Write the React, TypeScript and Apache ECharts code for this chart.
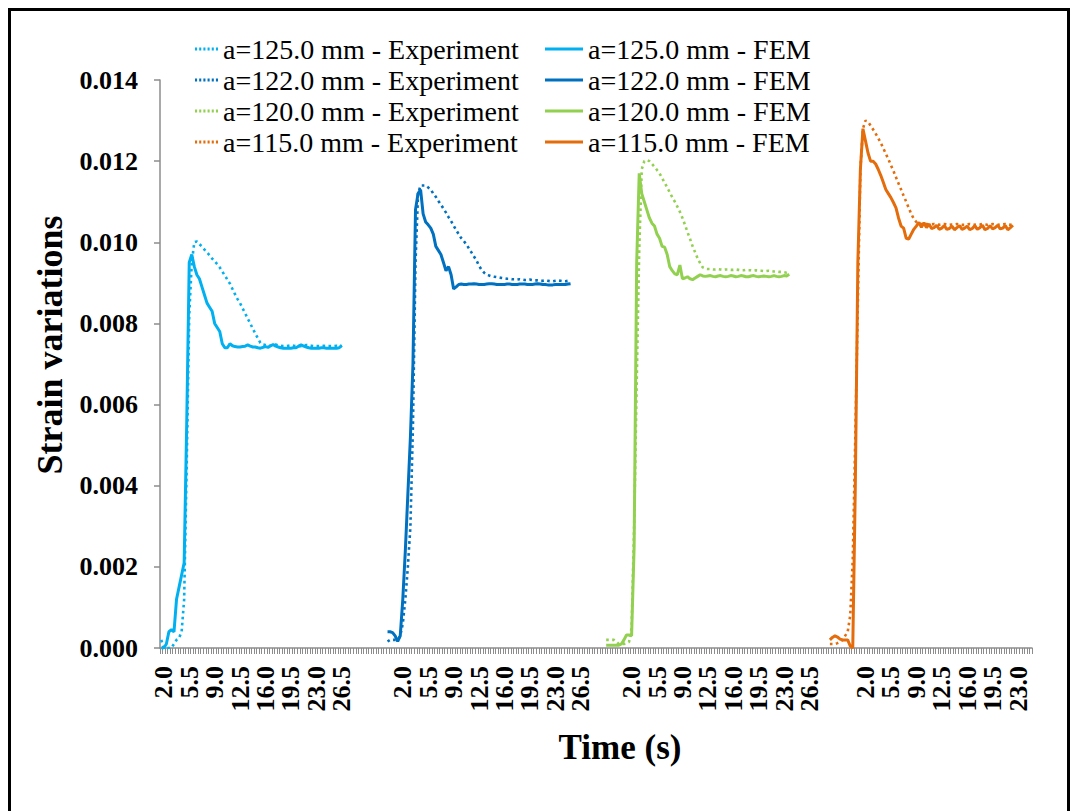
import React, { useEffect, useRef } from 'react';
import * as echarts from 'echarts';

// ---------- data ----------
const N_CAT = 343; // category slots along the single time axis (0.35 s each)
const tickLabels = ['2.0', '5.5', '9.0', '12.5', '16.0', '19.5', '23.0', '26.5'];
const labelsPerGroup = [8, 8, 8, 7];
const groupLabelStart = [1, 95, 185, 277];
const groupDataStart = [0, 89, 175, 263];

const seriesNames = [
  'a=125.0 mm - Experiment',
  'a=122.0 mm - Experiment',
  'a=120.0 mm - Experiment',
  'a=115.0 mm - Experiment',
  'a=125.0 mm - FEM',
  'a=122.0 mm - FEM',
  'a=120.0 mm - FEM',
  'a=115.0 mm - FEM',
];

const exp125 = [
  0.0002, 0, 0, 0, 0, 0.0001, 0.0002, 0.00025, 0.0004, 0.0012, 0.0045, 0.0082, 0.0095, 0.0100, 0.01002,
  0.00995, 0.0099, 0.00982, 0.00975, 0.00968, 0.0096, 0.00953, 0.00946, 0.00938, 0.00928, 0.00918,
  0.00908, 0.00898, 0.00885, 0.00872, 0.0086, 0.0085, 0.00837, 0.00825, 0.00812, 0.008, 0.00787,
  0.00775, 0.00763, 0.00752, 0.00748,
  0.00747, 0.00746, 0.00745, 0.00746, 0.00748, 0.00746, 0.00745, 0.00744, 0.00744, 0.00745,
  0.00746, 0.00745, 0.00744, 0.00744, 0.00744, 0.00745, 0.00747, 0.00746, 0.00745, 0.00744,
  0.00744, 0.00744, 0.00744, 0.00745, 0.00744, 0.00744, 0.00744, 0.00744, 0.00745, 0.00744, 0.00744,
];
const fem125 = [
  0, 0, 0.0001, 0.0004, 0.00045, 0.0004, 0.0012, 0.0015, 0.0018, 0.0021, 0.0055, 0.0095, 0.0097, 0.0094,
  0.0092, 0.0091, 0.0089, 0.0087, 0.0085, 0.0084, 0.0083, 0.0080, 0.0079, 0.0078, 0.0075, 0.0074,
  0.0074, 0.0075, 0.00745,
  0.00743, 0.00742, 0.00742, 0.00743, 0.00744, 0.00747, 0.00744, 0.00742, 0.00742, 0.0074,
  0.00739, 0.00741, 0.00743, 0.00741, 0.00745, 0.00748, 0.00744, 0.00742, 0.0074, 0.00739,
  0.00739, 0.00739, 0.00739, 0.0074, 0.0074, 0.00744, 0.00747, 0.00744, 0.00742, 0.0074,
  0.00739, 0.00739, 0.00739, 0.00739, 0.0074, 0.0074, 0.00739, 0.00739, 0.00739, 0.00739,
  0.00739, 0.0074, 0.00746,
];

const exp122 = [
  0.00016, 0.0002, 0.0002, 0.0002, 0.0002, 0.0003, 0.0006, 0.0012, 0.002, 0.003,
  0.0055, 0.0095, 0.0112, 0.0114, 0.0114, 0.0114, 0.01135, 0.0113, 0.0112, 0.01112,
  0.01102, 0.01093, 0.01083, 0.01073, 0.01062, 0.01052, 0.01041, 0.0103, 0.0102, 0.0101,
  0.01003, 0.00995, 0.00985, 0.00975, 0.00965, 0.00955, 0.00942, 0.00932, 0.00925, 0.0092,
  0.00918, 0.00916, 0.00915, 0.00914, 0.00913, 0.00912, 0.00911,
  0.0091, 0.0091, 0.00909, 0.00909, 0.00908, 0.00909, 0.00908, 0.00907, 0.00907, 0.00908,
  0.00907, 0.00906, 0.00906, 0.00905, 0.00905, 0.00906, 0.00905, 0.00904, 0.00904, 0.00905,
  0.00906, 0.00905, 0.00904, 0.00904, 0.00905, 0.00905,
];
const fem122 = [
  0.0004, 0.0004, 0.00038, 0.0003, 0.00016, 0.0003, 0.0012, 0.0024, 0.0038, 0.0052,
  0.0070, 0.0108, 0.0112, 0.0113, 0.0107, 0.0105, 0.01043, 0.01035, 0.0102, 0.0099,
  0.0098, 0.0097, 0.0095, 0.0093, 0.0094, 0.0092, 0.00885, 0.0089, 0.00896,
  0.00897, 0.00896, 0.00896, 0.00897, 0.00897, 0.00898, 0.00897, 0.00896, 0.00896, 0.00896,
  0.00897, 0.00898, 0.00898, 0.00897, 0.00896, 0.00896, 0.00896, 0.00896, 0.00897, 0.00897,
  0.00896, 0.00896, 0.00896, 0.00897, 0.00897, 0.00897, 0.00896, 0.00896, 0.00896, 0.00897,
  0.00898, 0.00897, 0.00896, 0.00896, 0.00895, 0.00895, 0.00895, 0.00896, 0.00896, 0.00896,
  0.00896, 0.00896, 0.00897, 0.00898,
];

const exp120 = [
  0.0002, 0.0002, 0.0002, 0.0002, 0.00015, 0.0001, 0.0001, 0.0001, 0.00012, 0.00015,
  0.0005, 0.003, 0.0065, 0.0098, 0.0118, 0.0120, 0.01203, 0.012, 0.01193, 0.01186,
  0.01178, 0.0117, 0.01158, 0.01147, 0.01135, 0.01123, 0.01111, 0.011, 0.01088, 0.01075,
  0.0106, 0.01043, 0.01025, 0.01008, 0.0099, 0.00975, 0.0096, 0.00948, 0.00938,
  0.00935, 0.00934, 0.00934, 0.00933, 0.00933, 0.00934, 0.00933, 0.00932, 0.00933, 0.00933,
  0.00932, 0.00932, 0.00933, 0.00932, 0.00931, 0.00931, 0.00932, 0.00931, 0.00931, 0.0093,
  0.00931, 0.0093, 0.0093, 0.00929, 0.00929, 0.0093, 0.00929, 0.00928, 0.00928, 0.00927,
  0.00927, 0.00926, 0.00925, 0.00925,
];
const fem120 = [
  0.00007, 0.00007, 0.00007, 0.00007, 0.00007, 0.00007, 0.0001, 0.0002, 0.00032, 0.00032,
  0.0003, 0.0025, 0.0095, 0.0117, 0.0112, 0.011, 0.0108, 0.0106, 0.01047, 0.0104,
  0.0102, 0.0101, 0.0099, 0.00988, 0.0097, 0.0094, 0.0093, 0.00922, 0.0092, 0.00944,
  0.0091, 0.00912, 0.00915, 0.0091, 0.00908, 0.00912, 0.00916, 0.0092,
  0.00917, 0.00916, 0.00917, 0.00918, 0.00916, 0.00915, 0.00917, 0.00918, 0.00916, 0.00915,
  0.00916, 0.00918, 0.00917, 0.00915, 0.00916, 0.00918, 0.00917, 0.00915, 0.00915, 0.00917,
  0.00918, 0.00916, 0.00915, 0.00916, 0.00917, 0.00916, 0.00915, 0.00916, 0.00918, 0.00916,
  0.00915, 0.00916, 0.00918, 0.00917, 0.00921,
];

const exp115 = [
  0.0001, 0.0001, 0.0001, 0.00012, 0.00015, 0.0002, 0.0003, 0.0004, 0.0008, 0.0022,
  0.0052, 0.0085, 0.0118, 0.0128, 0.0130, 0.01297, 0.01288, 0.01278, 0.01268, 0.01257,
  0.01245, 0.01232, 0.01218, 0.01205, 0.0119, 0.01176, 0.0116, 0.01145, 0.0113, 0.01115,
  0.011, 0.01085, 0.0107, 0.01058, 0.0105, 0.01046,
  0.01045, 0.01044, 0.01045, 0.01044, 0.01044, 0.01045, 0.01044, 0.01043, 0.01044, 0.01045,
  0.01044, 0.01043, 0.01044, 0.01044, 0.01045, 0.01044, 0.01043, 0.01043, 0.01044, 0.01045,
  0.01044, 0.01043, 0.01044, 0.01044, 0.01045, 0.01044, 0.01043, 0.01044, 0.01045, 0.01044,
  0.01043, 0.01044, 0.01044, 0.01045, 0.01044, 0.01043, 0.01044,
];
const fem115 = [
  0.0002, 0.00026, 0.0003, 0.00027, 0.00022, 0.0002, 0.0002, 0.0002, 0.00005, 0,
  0.004, 0.0095, 0.0118, 0.0128, 0.0125, 0.0122, 0.012, 0.012, 0.01193, 0.0118,
  0.01165, 0.01148, 0.0113, 0.0112, 0.0111, 0.01098, 0.01085, 0.0106, 0.0104, 0.01035,
  0.0101, 0.01008, 0.0102, 0.01032, 0.0104, 0.01049,
  0.01037, 0.01048, 0.01036, 0.01045, 0.01034, 0.01036, 0.01042, 0.01032, 0.01035, 0.01041,
  0.01032, 0.01034, 0.0104, 0.01031, 0.01036, 0.01041, 0.01032, 0.01035, 0.0104, 0.01031,
  0.01034, 0.01041, 0.01032, 0.01036, 0.01042, 0.01031, 0.01034, 0.01041, 0.01033, 0.01036,
  0.01042, 0.01033, 0.01035, 0.01041, 0.01031, 0.01036, 0.01042,
];

const colors = ['#00B0F0', '#0070C0', '#92D050', '#E46C0A'];

// ---------- option building ----------
const FONT = '"Liberation Serif", "Times New Roman", serif';
const categories = Array.from({ length: N_CAT }, (_, i) => String(i));
const labelMap: Record<number, string> = {};
// blank placeholders at both ends absorb ECharts' min/max-label overlap trimming
labelMap[0] = ' ';
labelMap[N_CAT - 1] = ' ';
groupLabelStart.forEach((s, g) => {
  for (let k = 0; k < labelsPerGroup[g]; k++) labelMap[s + k * 10] = tickLabels[k];
});

function place(start: number, vals: number[]) {
  const arr: (number | null)[] = new Array(N_CAT).fill(null);
  vals.forEach((v, k) => {
    arr[start + k] = v;
  });
  return arr;
}

const expData = [exp125, exp122, exp120, exp115];
const femData = [fem125, fem122, fem120, fem115];

const series: any[] = [];
expData.forEach((d, g) => {
  series.push({
    name: seriesNames[g],
    type: 'line',
    data: place(groupDataStart[g], d),
    symbol: 'none',
    itemStyle: { color: colors[g] },
    lineStyle: { color: colors[g], width: 2.6, type: [2.6, 3.4], cap: 'butt' },
    z: 2,
  });
});
femData.forEach((d, g) => {
  series.push({
    name: seriesNames[4 + g],
    type: 'line',
    data: place(groupDataStart[g], d),
    symbol: 'none',
    itemStyle: { color: colors[g] },
    lineStyle: { color: colors[g], width: 3 },
    z: 3,
  });
});

const dotIcon = 'path://M0,0h2v2h-2zM4,0h2v2h-2zM8,0h2v2h-2zM12,0h2v2h-2zM16,0h2v2h-2zM20,0h2v2h-2z';
const solidIcon = 'path://M0,0h38v3h-38z';

const legendCommon = {
  orient: 'vertical',
  top: 24,
  itemHeight: 3,
  itemGap: 3,
  padding: 0,
  selectedMode: false,
  symbolKeepAspect: false,
  textStyle: { fontSize: 28, lineHeight: 28, fontFamily: FONT, color: '#000' },
};

const option: any = {
  animation: false,
  backgroundColor: '#fff',
  textStyle: { fontFamily: FONT },
  grid: { left: 149, top: 69, width: 872, height: 568, outerBoundsMode: 'none', containLabel: false },
  legend: [
    {
      ...legendCommon,
      left: 184,
      itemWidth: 23,
      icon: dotIcon,
      data: seriesNames.slice(0, 4).map((n, i) => ({ name: n, itemStyle: { color: colors[i], borderWidth: 0 } })),
    },
    {
      ...legendCommon,
      left: 534,
      itemWidth: 38,
      icon: solidIcon,
      data: seriesNames.slice(4).map((n, i) => ({ name: n, itemStyle: { color: colors[i], borderWidth: 0 } })),
    },
  ],
  xAxis: {
    type: 'category',
    data: categories,
    boundaryGap: true,
    name: 'Time (s)',
    nameLocation: 'middle',
    nameGap: 82,
    nameMoveOverlap: false,
    nameTextStyle: {
      fontSize: 35,
      fontWeight: 'bold',
      fontFamily: FONT,
      color: '#000',
      padding: [0, 0, 0, 48],
    },
    axisLine: { show: true, lineStyle: { color: '#8c8c8c', width: 1.5 } },
    axisTick: { show: true, interval: 0, length: 6, lineStyle: { color: '#8c8c8c', width: 1 } },
    axisLabel: {
      show: true,
      rotate: 90,
      margin: 18,
      interval: (index: number) => labelMap[index] !== undefined,
      formatter: (_v: string, index: number) => labelMap[index] ?? '',
      fontSize: 26,
      fontWeight: 'bold',
      fontFamily: FONT,
      color: '#000',
    },
    splitLine: { show: false },
  },
  yAxis: {
    type: 'value',
    min: 0,
    max: 0.014,
    interval: 0.002,
    name: 'Strain variations',
    nameLocation: 'middle',
    nameGap: 92,
    nameMoveOverlap: false,
    nameTextStyle: {
      fontSize: 36,
      fontWeight: 'bold',
      fontFamily: FONT,
      color: '#000',
      padding: [0, 0, 0, 38],
    },
    axisLine: { show: true, lineStyle: { color: '#8c8c8c', width: 1.5 } },
    axisTick: { show: true, inside: false, length: 6, lineStyle: { color: '#8c8c8c', width: 1.5 } },
    axisLabel: {
      show: true,
      margin: 22,
      formatter: (v: number) => v.toFixed(3),
      fontSize: 26,
      fontWeight: 'bold',
      fontFamily: FONT,
      color: '#000',
    },
    splitLine: { show: false },
  },
  series,
};

export default function App() {
  const ref = useRef<HTMLDivElement>(null);
  useEffect(() => {
    if (!ref.current) return;
    const chart = echarts.init(ref.current, null, { renderer: 'svg' });
    chart.setOption(option);
    return () => chart.dispose();
  }, []);
  return (
    <div
      style={{
        position: 'fixed',
        left: 8,
        top: 8,
        width: 1062,
        height: 830,
        border: '3px solid #000',
        boxSizing: 'border-box',
        background: '#fff',
      }}
    >
      <div ref={ref} style={{ width: 1056, height: 800 }} />
    </div>
  );
}
